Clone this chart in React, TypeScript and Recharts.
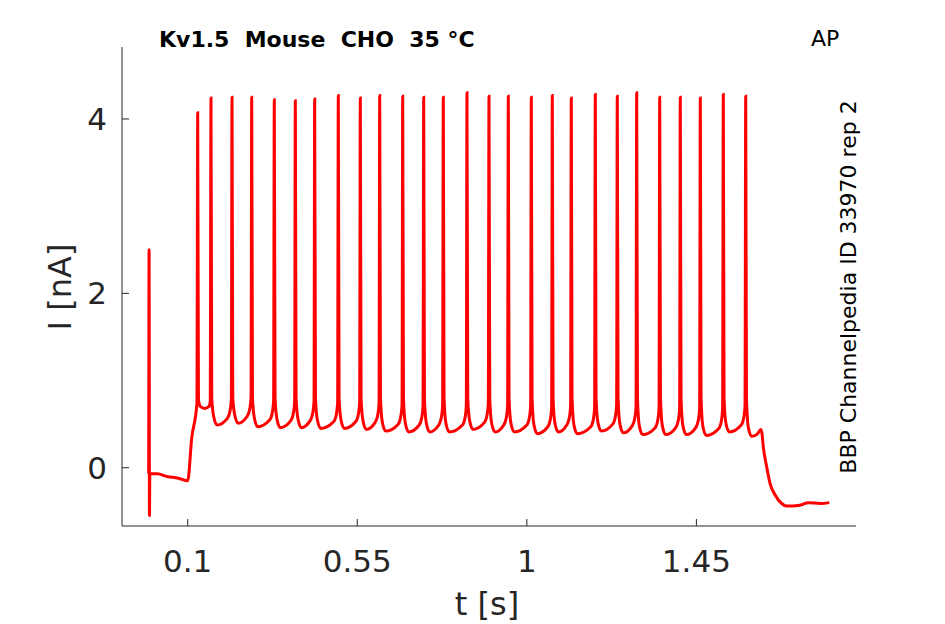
import React from 'react';
import { LineChart, Line, XAxis, YAxis } from 'recharts';

// [t (s), I (nA)]
const holdingTrace: [number, number][] = [
  [-0.0035, -0.07], [-0.0025, 2.5], [-0.0015, -0.55], [-0.0005, -0.07],
  [0.02, -0.07], [0.045, -0.1], [0.075, -0.12], [0.1, -0.15],
];

const spikeTrain: [number, number][] = [
  [0.1106, 0.34], [0.1245, 0.74], [0.1265, 4.07], [0.1285, 0.78], [0.134, 0.7], [0.145, 0.68], [0.156, 0.7], [0.1598, 0.76], [0.1618, 4.24],
  [0.1638, 0.8], [0.1688, 0.59], [0.1778, 0.49], [0.2056, 0.57], [0.2126, 0.66], [0.2158, 0.79], [0.2176, 4.25],
  [0.2196, 0.8], [0.2246, 0.61], [0.2336, 0.51], [0.2579, 0.59], [0.2649, 0.68], [0.2681, 0.81], [0.2699, 4.25],
  [0.2719, 0.8], [0.2769, 0.57], [0.2859, 0.47], [0.3178, 0.55], [0.3248, 0.64], [0.328, 0.77], [0.3298, 4.22],
  [0.3318, 0.8], [0.3368, 0.56], [0.3458, 0.46], [0.3736, 0.54], [0.3806, 0.63], [0.3838, 0.76], [0.3856, 4.21],
  [0.3876, 0.8], [0.3926, 0.56], [0.4016, 0.46], [0.425, 0.54], [0.432, 0.63], [0.4352, 0.76], [0.437, 4.23],
  [0.439, 0.8], [0.444, 0.55], [0.453, 0.45], [0.4877, 0.53], [0.4947, 0.62], [0.4979, 0.75], [0.4997, 4.27],
  [0.5017, 0.8], [0.5067, 0.55], [0.5157, 0.45], [0.5461, 0.53], [0.5531, 0.62], [0.5563, 0.75], [0.5581, 4.24],
  [0.5601, 0.8], [0.5651, 0.54], [0.5741, 0.44], [0.5976, 0.52], [0.6046, 0.61], [0.6078, 0.74], [0.6096, 4.27],
  [0.6116, 0.8], [0.6166, 0.52], [0.6256, 0.42], [0.6586, 0.5], [0.6656, 0.59], [0.6688, 0.72], [0.6706, 4.26],
  [0.6726, 0.8], [0.6776, 0.51], [0.6866, 0.41], [0.7143, 0.49], [0.7213, 0.58], [0.7245, 0.71], [0.7263, 4.25],
  [0.7283, 0.8], [0.7333, 0.51], [0.7423, 0.41], [0.7663, 0.49], [0.7733, 0.58], [0.7765, 0.71], [0.7783, 4.25],
  [0.7803, 0.8], [0.7853, 0.51], [0.7943, 0.41], [0.8292, 0.49], [0.8362, 0.58], [0.8394, 0.71], [0.8412, 4.3],
  [0.8432, 0.8], [0.8482, 0.54], [0.8572, 0.44], [0.8876, 0.52], [0.8946, 0.61], [0.8978, 0.74], [0.8996, 4.26],
  [0.9016, 0.8], [0.9066, 0.51], [0.9156, 0.41], [0.9388, 0.49], [0.9458, 0.58], [0.949, 0.71], [0.9508, 4.26],
  [0.9528, 0.8], [0.9578, 0.51], [0.9668, 0.41], [0.9999, 0.49], [1.0069, 0.58], [1.0101, 0.71], [1.0119, 4.25],
  [1.0139, 0.8], [1.0189, 0.49], [1.0279, 0.39], [1.0556, 0.47], [1.0626, 0.56], [1.0658, 0.69], [1.0676, 4.27],
  [1.0696, 0.8], [1.0746, 0.51], [1.0836, 0.41], [1.106, 0.49], [1.113, 0.58], [1.1162, 0.71], [1.118, 4.24],
  [1.12, 0.8], [1.125, 0.49], [1.134, 0.39], [1.1697, 0.47], [1.1767, 0.56], [1.1799, 0.69], [1.1817, 4.28],
  [1.1837, 0.8], [1.1887, 0.52], [1.1977, 0.42], [1.2281, 0.5], [1.2351, 0.59], [1.2383, 0.72], [1.2401, 4.26],
  [1.2421, 0.8], [1.2471, 0.5], [1.2561, 0.4], [1.2796, 0.48], [1.2866, 0.57], [1.2898, 0.7], [1.2916, 4.3],
  [1.2936, 0.8], [1.2986, 0.48], [1.3076, 0.38], [1.3407, 0.46], [1.3477, 0.55], [1.3509, 0.68], [1.3527, 4.25],
  [1.3547, 0.8], [1.3597, 0.48], [1.3687, 0.38], [1.3953, 0.46], [1.4023, 0.55], [1.4055, 0.68], [1.4073, 4.25],
  [1.4093, 0.8], [1.4143, 0.48], [1.4233, 0.38], [1.4484, 0.46], [1.4554, 0.55], [1.4586, 0.68], [1.4604, 4.24],
  [1.4624, 0.8], [1.4674, 0.47], [1.4764, 0.37], [1.5094, 0.45], [1.5164, 0.54], [1.5196, 0.67], [1.5214, 4.28],
  [1.5234, 0.8], [1.5284, 0.51], [1.5374, 0.41], [1.5689, 0.49], [1.5759, 0.58], [1.5791, 0.71], [1.5809, 4.26],
  [1.5829, 0.8], [1.5879, 0.46], [1.5969, 0.36], [1.61, 0.38], [1.619, 0.43], [1.6215, 0.44], [1.6245, 0.38],
];

const recoveryTrace: [number, number][] = [
  [1.6276, 0.24], [1.6366, 0.01], [1.6454, -0.18], [1.6586, -0.31], [1.6764, -0.41],
  [1.6897, -0.44], [1.725, -0.43], [1.747, -0.4], [1.78, -0.41], [1.8027, -0.4],
];

const xTicks = [0.1, 0.55, 1, 1.45];
const yTicks = [0, 2, 4];
const xDomain: [number, number] = [-0.0744, 1.8736];
const yDomain: [number, number] = [-0.668, 4.825];

const titleText = 'Kv1.5  Mouse  CHO  35 °C';
const cornerText = 'AP';
const sideText = 'BBP Channelpedia ID 33970 rep 2';
const xLabel = 't [s]';
const yLabel = 'I [nA]';

const data = [...holdingTrace, ...spikeTrain, ...recoveryTrace].map(([t, i]) => ({ t, i }));

const FONT = 'DejaVu Sans';
const AXIS = '#262626';

export default function App() {
  const tickStyle = { fill: AXIS, fontSize: 31, fontFamily: FONT };
  return (
    <div style={{ position: 'absolute', left: 0, top: 0, width: 945, height: 624, background: '#fff' }}>
      <LineChart width={945} height={624} data={data} margin={{ top: 47, right: 89, bottom: 38, left: 22 }}>
        <XAxis
          dataKey="t"
          type="number"
          domain={xDomain}
          ticks={xTicks}
          allowDataOverflow
          interval={0}
          height={60}
          tickSize={-7}
          tickMargin={31}
          stroke={AXIS}
          tick={tickStyle}
        />
        <YAxis
          type="number"
          domain={yDomain}
          ticks={yTicks}
          allowDataOverflow
          interval={0}
          width={100}
          tickSize={-7}
          tickMargin={22}
          stroke={AXIS}
          tick={tickStyle}
        />
        <Line dataKey="i" type="monotone" stroke="#ff0000" strokeWidth={3} dot={false} isAnimationActive={false} />
      </LineChart>
      <svg width={945} height={624} style={{ position: 'absolute', left: 0, top: 0, pointerEvents: 'none' }}>
        <text x={159} y={47} fontFamily={FONT} fontWeight="bold" fontSize={22} fill="#000" style={{ whiteSpace: 'pre' }}>
          {titleText}
        </text>
        <text x={811} y={46} fontFamily={FONT} fontSize={22} fill="#000">
          {cornerText}
        </text>
        <text x={856} y={287} fontFamily={FONT} fontSize={22} fill="#000" textAnchor="middle" transform="rotate(-90 856 287)">
          {sideText}
        </text>
        <text x={487} y={615} fontFamily={FONT} fontSize={32} fill={AXIS} textAnchor="middle">
          {xLabel}
        </text>
        <text x={70.5} y={287} fontFamily={FONT} fontSize={32} fill={AXIS} textAnchor="middle" transform="rotate(-90 70.5 287)">
          {yLabel}
        </text>
      </svg>
    </div>
  );
}
